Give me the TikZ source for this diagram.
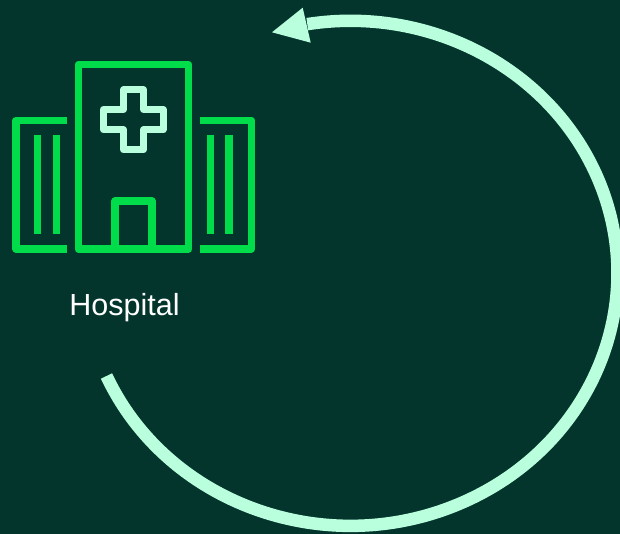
\documentclass[tikz,border=0pt]{standalone}
\usepackage{fontspec}
\setmainfont{Liberation Sans}
\definecolor{bgc}{HTML}{03352C}
\definecolor{mint}{HTML}{B9FFDD}
\definecolor{grn}{HTML}{00DC4A}
\tikzset{
 ringline/.style={draw=mint,line width=12.5pt},
 ringhead/.style={fill=mint,draw=none},
 iconline/.style={draw=grn,line width=7.2pt,line join=round},
 crossline/.style={draw=mint,line width=7pt,line join=round},
 lbl/.style={text=white,font=\fontsize{30.5}{36}\selectfont,inner sep=0pt,anchor=base}
}
\begin{document}
\begin{tikzpicture}[x=1pt,y=-1pt]
\useasboundingbox (0,0) rectangle (620,534);
\fill[bgc] (0,0) rectangle (620,534);
% ring
\coordinate (ringstart) at (106.5,376);
\draw[ringline] (ringstart) arc[start angle=156,end angle=-99.3,x radius=267,y radius=252.5];
\fill[ringhead] (272,32.3) -- (302.7,7.7) -- (310.7,42.7) -- cycle;
% main block
\draw[iconline] (78.2,64.5) rectangle (188.8,249);
\draw[iconline] (115,249) -- (115,201) -- (152,201) -- (152,249);
% wings
\draw[iconline] (67,120.3) -- (16,120.3) -- (16,249) -- (67,249);
\draw[iconline] (200,120.3) -- (251.5,120.3) -- (251.5,249) -- (200,249);
% window bars
\foreach \bx in {37.8,56.2,210.5,229}
  \draw[iconline] (\bx,135) -- (\bx,234.3);
% cross
\draw[crossline] (123.5,90) -- (143.5,90) -- (143.5,109.5) -- (163,109.5) -- (163,130) -- (143.5,130) -- (143.5,150) -- (123.5,150) -- (123.5,130) -- (103.5,130) -- (103.5,109.5) -- (123.5,109.5) -- cycle;
\node[lbl] (hospital) at (124.5,315) {Hospital};
\end{tikzpicture}
\end{document}
